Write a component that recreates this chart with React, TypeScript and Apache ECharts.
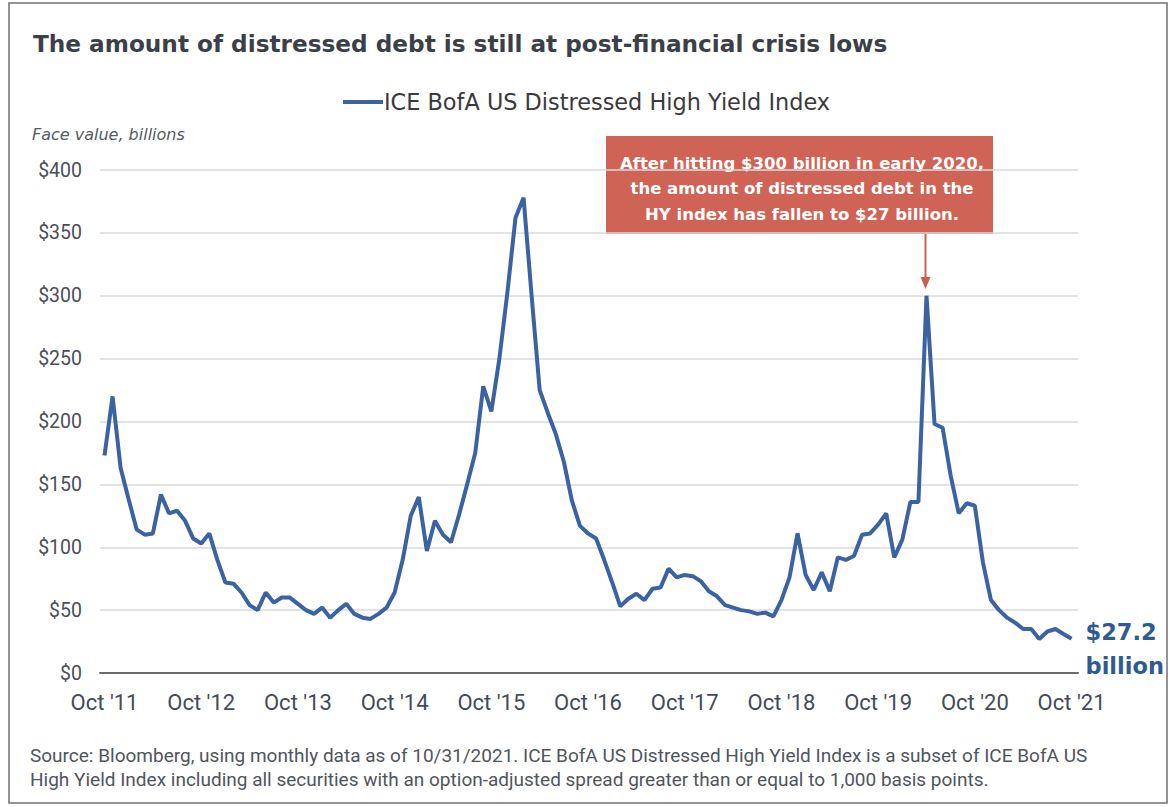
import React, { useEffect, useRef } from "react";
import * as echarts from "echarts";

const seriesName = "ICE BofA US Distressed High Yield Index";

// Monthly face value (billions), Oct 2011 .. Oct 2021
const distressedDebt: number[] = [
  173, 220, 163, 138, 114, 110, 111, 142, 127, 129, 121, 107,
  103, 111, 90, 72, 71, 64, 54, 50, 64, 56, 60, 60,
  55, 50, 47, 52, 44, 50, 55, 47, 44, 43, 47, 52,
  64, 90, 125, 140, 97, 121, 110, 104, 126, 150, 175, 228,
  208, 250, 303, 362, 378, 300, 225, 207, 190, 168, 137, 117,
  111, 107, 90, 72, 53, 59, 63, 58, 67, 68, 83, 76,
  78, 77, 73, 65, 61, 54, 52, 50, 49, 47, 48, 45,
  58, 76, 111, 78, 66, 80, 65, 92, 90, 93, 110, 111,
  118, 127, 92, 106, 136, 136, 300, 198, 195, 157, 127, 135,
  133, 88, 58, 50, 44, 40, 35, 35, 27, 33, 35, 31,
  27.2,
];

// x tick positions (month index) and their labels
const xTickMonths: number[] = [0, 12, 24, 36, 48, 60, 72, 84, 96, 108, 120];
const xTickLabels: string[] = [
  "Oct '11", "Oct '12", "Oct '13", "Oct '14", "Oct '15", "Oct '16",
  "Oct '17", "Oct '18", "Oct '19", "Oct '20", "Oct '21",
];

const annotationLines: string[] = [
  "After hitting $300 billion in early 2020,",
  "the amount of distressed debt in the",
  "HY index has fallen to $27 billion.",
];

const titleText = "The amount of distressed debt is still at post-financial crisis lows";
const footnoteLines: string[] = [
  "Source: Bloomberg, using monthly data as of 10/31/2021. ICE BofA US Distressed High Yield Index is a subset of ICE BofA US",
  "High Yield Index including all securities with an option-adjusted spread greater than or equal to 1,000 basis points.",
];

const BLUE = "#3b63a2";
const RED = "#cf6456";
const WIDE = "'DejaVu Sans', sans-serif";
const NARROW = "Roboto, sans-serif";

export default function App() {
  const ref = useRef<HTMLDivElement>(null);

  useEffect(() => {
    if (!ref.current) return;
    const chart = echarts.init(ref.current, null, { renderer: "svg" });
    const data = distressedDebt.map((v, i) => [i, v]);
    const labelMap: Record<number, string> = {};
    xTickMonths.forEach((m, i) => (labelMap[m] = xTickLabels[i]));

    chart.setOption({
      animation: false,
      backgroundColor: "#ffffff",
      textStyle: { fontFamily: NARROW },
      title: {
        text: titleText,
        left: 28,
        top: 27,
        textStyle: {
          fontFamily: WIDE,
          fontSize: 23.2,
          fontWeight: "bold",
          color: "#3b4048",
        },
      },
      legend: {
        top: 86,
        left: 338,
        icon: "rect",
        itemWidth: 40,
        itemHeight: 4,
        itemGap: 0,
        textStyle: {
          fontFamily: WIDE,
          fontSize: 22.4,
          color: "#3a3a3a",
          padding: [0, 0, 0, -4],
        },
        data: [seriesName],
      },
      grid: { left: 100, right: 92, top: 170, bottom: 134, containLabel: false },
      xAxis: {
        type: "value",
        min: -0.56,
        max: 120.8,
        splitLine: { show: false },
        axisTick: { show: false },
        axisLine: { show: true, lineStyle: { color: "#6b6b6b", width: 2 } },
        axisLabel: {
          customValues: xTickMonths,
          formatter: (v: number) => labelMap[Math.round(v)] ?? "",
          color: "#444b55",
          fontSize: 22,
          fontFamily: NARROW,
          margin: 18,
        },
      },
      yAxis: {
        type: "value",
        min: 0,
        max: 400,
        interval: 50,
        axisLine: { show: false },
        axisTick: { show: false },
        splitLine: { lineStyle: { color: "#dadada", width: 1.5 } },
        axisLabel: {
          formatter: (v: number) => "$" + v,
          color: "#4b4f57",
          fontSize: 19.5,
          fontFamily: NARROW,
          margin: 18,
        },
      },
      series: [
        {
          name: seriesName,
          type: "line",
          data,
          symbol: "none",
          lineStyle: { color: BLUE, width: 4 },
          itemStyle: { color: BLUE },
          endLabel: {
            show: true,
            formatter: (p: any) => "{a|$" + p.value[1] + "}\n{a|billion}",
            offset: [6, 10],
            rich: {
              a: {
                fontFamily: WIDE,
                fontSize: 22.5,
                fontWeight: "bold",
                color: "#2f5b91",
                lineHeight: 34,
              },
            },
          },
        },
      ],
      graphic: [
        {
          type: "rect",
          shape: { x: 9, y: 3, width: 1158, height: 800 },
          style: { fill: "none", stroke: "#707070", lineWidth: 1.5 },
          silent: true,
        },
        {
          type: "text",
          left: 32,
          top: 126,
          style: {
            text: "Face value, billions",
            fontFamily: WIDE,
            fontStyle: "italic",
            fontSize: 16,
            fill: "#555a62",
          },
        },
        {
          type: "rect",
          shape: { x: 606, y: 136, width: 387, height: 98 },
          style: { fill: RED },
        },
        ...annotationLines.map((t, i) => ({
          type: "text",
          x: 802,
          y: 163 + i * 25.5,
          style: {
            text: t,
            fill: "#ffffff",
            fontFamily: WIDE,
            fontWeight: "bold",
            fontSize: 16.5,
            textAlign: "center",
            textVerticalAlign: "middle",
          },
        })),
        {
          type: "line",
          shape: { x1: 925.5, y1: 234, x2: 925.5, y2: 284 },
          style: { stroke: "#c8604f", lineWidth: 2 },
        },
        {
          type: "polygon",
          shape: { points: [[920.5, 277], [930.5, 277], [925.5, 289]] },
          style: { fill: "#c8604f" },
        },
        ...footnoteLines.map((t, i) => ({
          type: "text",
          left: 30,
          top: 746 + i * 24,
          style: {
            text: t,
            fill: "#50555c",
            fontFamily: NARROW,
            fontSize: 19,
          },
        })),
      ],
    });
    return () => chart.dispose();
  }, []);

  return (
    <div
      ref={ref}
      style={{ position: "absolute", left: 0, top: 0, width: 1170, height: 807 }}
    />
  );
}
